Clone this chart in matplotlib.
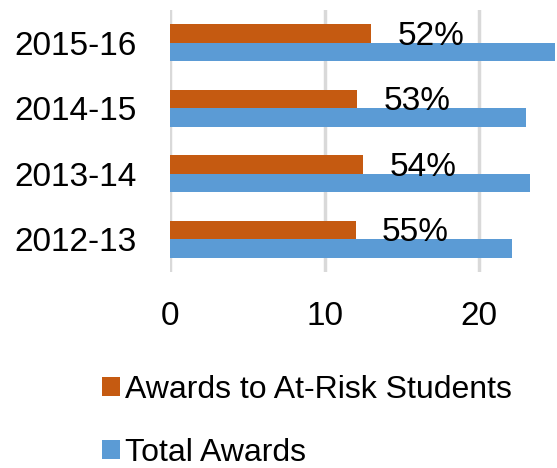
import numpy as np
import matplotlib.pyplot as plt

plt.rcParams['font.family'] = ['Liberation Sans', 'DejaVu Sans']

years = ["2012-13", "2013-14", "2014-15", "2015-16"]
at_risk = [12.0, 12.5, 12.1, 13.0]
total = [22.1, 23.3, 23.0, 24.9]
share_labels = ["55%", "54%", "53%", "52%"]

orange = "#C55A11"
blue = "#5B9BD5"

fig = plt.figure(figsize=(5.57, 4.68), dpi=100)
ax = fig.add_axes([170 / 557, 1 - 272 / 468, 385 / 557, 262 / 468])

y = np.arange(len(years))
h = 0.283
ax.barh(y + h / 2, at_risk, height=h, color=orange, label="Awards to At-Risk Students")
ax.barh(y - h / 2, total, height=h, color=blue, label="Total Awards")

# percentage labels sit a little to the right of the orange bar
for yi, v, txt in zip(y, at_risk, share_labels):
    ax.annotate(txt, (v, yi + h / 2), xytext=(19, -2), textcoords="offset points",
                ha="left", va="center", fontsize=24, color="black")

ax.set_xlim(0, 24.9)
ax.set_ylim(-0.5, 3.5)
ax.set_xticks([0, 10, 20])
ax.set_yticks(y)
ax.set_yticklabels(years)
ax.tick_params(axis="both", length=0, labelsize=24)
ax.tick_params(axis="y", pad=24)
ax.tick_params(axis="x", pad=21)
ax.xaxis.grid(True, color="#d9d9d9", linewidth=2.5)
ax.set_axisbelow(True)
for s in ax.spines.values():
    s.set_visible(False)

fig.legend(loc="upper left", bbox_to_anchor=(102 / 557, 1 - 375 / 468), frameon=False,
           fontsize=23, handlelength=0.55, handleheight=0.55, handletextpad=0.18,
           labelspacing=1.02, borderpad=0, borderaxespad=0)

fig.savefig("out.png", dpi=100)
